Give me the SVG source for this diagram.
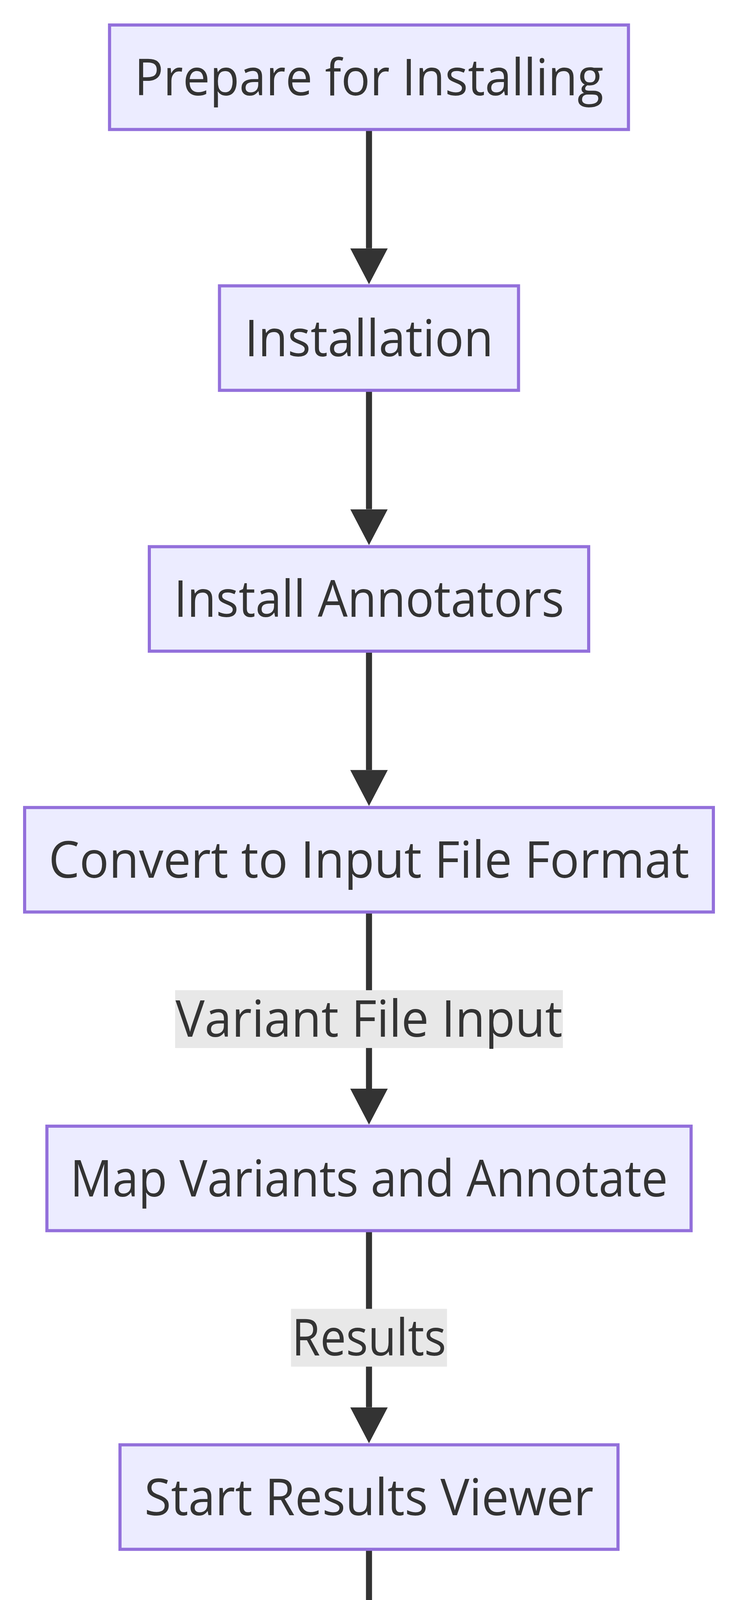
<svg xmlns="http://www.w3.org/2000/svg" width="1888" height="5656" viewBox="0 0 1888 5656">
<style>
.node rect{fill:#ECECFF;stroke:#9370DB;stroke-width:8}
.node text,.elabel text{font-family:"Open Sans","Noto Sans","DejaVu Sans",sans-serif;font-size:130px;fill:#333333;text-anchor:middle}
.edge{stroke:#333333;stroke-width:15.5;fill:none;marker-end:url(#arrow)}
.elabel rect{fill:#e8e8e8}
</style>
<defs>
<marker id="arrow" markerUnits="userSpaceOnUse" viewBox="0 0 92 96" markerWidth="92" markerHeight="96" refX="0" refY="48" orient="auto">
<path d="M0,0 L92,48 L0,96 z" fill="#333333"/>
</marker>
</defs>
<rect x="0" y="0" width="1888" height="5656" fill="#ffffff"/>
<g id="connectors">
<line class="edge" x1="944" y1="331.5" x2="944" y2="635.75"/>
<line class="edge" x1="944" y1="999.25" x2="944" y2="1303.5"/>
<line class="edge" x1="944" y1="1667" x2="944" y2="1971.25"/>
<line class="edge" x1="944" y1="2334.75" x2="944" y2="2787"/>
<line class="edge" x1="944" y1="3150.5" x2="944" y2="3602.75"/>
<line class="edge" x1="944" y1="3966.25" x2="944" y2="4418.5"/>
<line class="edge" x1="944" y1="4782" x2="944" y2="5234.25"/>
</g>
<g id="edge-labels">
<g class="elabel" id="label-variant"><rect x="448" y="2534.9" width="992" height="148"/><text x="944" y="2654.4" textLength="990" lengthAdjust="spacingAndGlyphs">Variant File Input</text></g>
<g class="elabel" id="label-results-1"><rect x="744.5" y="3350.6" width="399" height="148"/><text x="944" y="3470.1" textLength="395" lengthAdjust="spacingAndGlyphs">Results</text></g>
<g class="elabel" id="label-results-2"><rect x="744.5" y="4166.4" width="399" height="148"/><text x="944" y="4285.9" textLength="395" lengthAdjust="spacingAndGlyphs">Results</text></g>
<g class="elabel" id="label-results-3"><rect x="744.5" y="4982.1" width="399" height="148"/><text x="944" y="5101.6" textLength="395" lengthAdjust="spacingAndGlyphs">Results</text></g>
</g>
<g class="node" id="node-prepare"><rect x="280.25" y="64" width="1327.5" height="267.5"/><text x="944" y="243.75" textLength="1200" lengthAdjust="spacingAndGlyphs">Prepare for Installing</text></g>
<g class="node" id="node-installation"><rect x="561.5" y="731.75" width="765" height="267.5"/><text x="944" y="911.5" textLength="636" lengthAdjust="spacingAndGlyphs">Installation</text></g>
<g class="node" id="node-annotators"><rect x="382" y="1399.5" width="1124" height="267.5"/><text x="944" y="1579.25" textLength="998" lengthAdjust="spacingAndGlyphs">Install Annotators</text></g>
<g class="node" id="node-convert"><rect x="63" y="2067.25" width="1762" height="267.5"/><text x="944" y="2247" textLength="1639" lengthAdjust="spacingAndGlyphs">Convert to Input File Format</text></g>
<g class="node" id="node-map"><rect x="120" y="2883" width="1648" height="267.5"/><text x="944" y="3062.75" textLength="1529" lengthAdjust="spacingAndGlyphs">Map Variants and Annotate</text></g>
<g class="node" id="node-viewer"><rect x="307" y="3698.75" width="1274" height="267.5"/><text x="944" y="3878.5" textLength="1149" lengthAdjust="spacingAndGlyphs">Start Results Viewer</text></g>
<g class="node" id="node-filter"><rect x="508" y="4514.5" width="872" height="267.5"/><text x="944" y="4694.25" textLength="747" lengthAdjust="spacingAndGlyphs">Filter Results</text></g>
<g class="node" id="node-visualize"><rect x="116.5" y="5330.25" width="1655" height="267.5"/><text x="944" y="5510" textLength="1537" lengthAdjust="spacingAndGlyphs">Visualizing Filtered Results</text></g>
</svg>
